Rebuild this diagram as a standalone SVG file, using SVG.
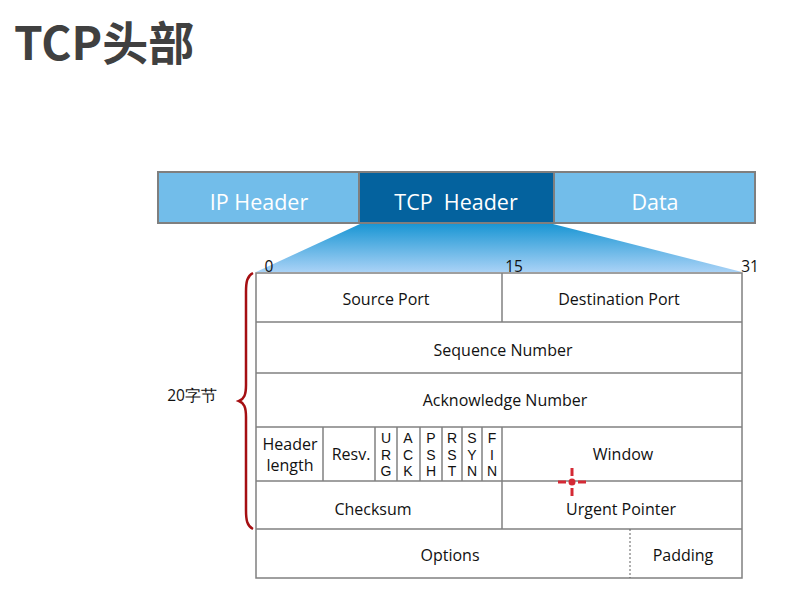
<svg xmlns="http://www.w3.org/2000/svg" width="799" height="607" viewBox="0 0 799 607">
<defs>
<linearGradient id="fan" x1="0" y1="0" x2="0" y2="1">
<stop offset="0" stop-color="#1a96d4"/>
<stop offset="1" stop-color="#a9d2f6"/>
</linearGradient>
<style>
.t{font-family:"Open Sans","Noto Sans","Noto Sans CJK SC",sans-serif;fill:#111;font-size:16px;text-anchor:middle}
.f{font-family:"Liberation Sans",Arial,sans-serif;fill:#111;font-size:14px;text-anchor:middle}
.n{font-family:"Open Sans","Noto Sans",sans-serif;fill:#111;font-size:15.5px;text-anchor:middle}
.b{font-family:"Open Sans","Noto Sans",sans-serif;fill:#fff;font-size:21.5px;text-anchor:middle}
.ln{stroke:#808080;stroke-width:1.5;fill:none}
.cell{fill:#fff;stroke:#808080;stroke-width:1.5}
</style>
</defs>
<rect width="799" height="607" fill="#fff"/>
<text x="14" y="60" font-family="'Noto Sans CJK SC','Noto Sans',sans-serif" font-weight="bold" font-size="46" fill="#404040">TCP头部</text>

<g id="packet">
<g id="ip-header"><rect x="158" y="172" width="201" height="51" fill="#72bdea" stroke="#7f7f7f" stroke-width="2"/><text class="b" x="259" y="210">IP Header</text></g>
<g id="tcp-header"><rect x="359" y="172" width="195" height="51" fill="#04629e" stroke="#7f7f7f" stroke-width="2"/><text class="b" x="456" y="210" xml:space="preserve">TCP  Header</text></g>
<g id="data"><rect x="554" y="172" width="201" height="51" fill="#72bdea" stroke="#7f7f7f" stroke-width="2"/><text class="b" x="655" y="210">Data</text></g>
</g>

<polygon points="360,224 553,224 742,272 256,272" fill="url(#fan)"/>
<text class="n" x="269" y="272">0</text>
<text class="n" x="514" y="272">15</text>
<text class="n" x="750" y="272">31</text>

<g id="table">
<rect class="cell" x="256" y="273" width="486" height="305"/>
<g id="connectors">
<line class="ln" x1="256" y1="322" x2="742" y2="322"/>
<line class="ln" x1="256" y1="373" x2="742" y2="373"/>
<line class="ln" x1="256" y1="427" x2="742" y2="427"/>
<line class="ln" x1="256" y1="481" x2="742" y2="481"/>
<line class="ln" x1="256" y1="529" x2="742" y2="529"/>
<line class="ln" x1="502" y1="273" x2="502" y2="322"/>
<line class="ln" x1="323" y1="427" x2="323" y2="481"/>
<line class="ln" x1="375" y1="427" x2="375" y2="481"/>
<line class="ln" x1="397" y1="427" x2="397" y2="481"/>
<line class="ln" x1="420" y1="427" x2="420" y2="481"/>
<line class="ln" x1="442" y1="427" x2="442" y2="481"/>
<line class="ln" x1="462" y1="427" x2="462" y2="481"/>
<line class="ln" x1="482" y1="427" x2="482" y2="481"/>
<line class="ln" x1="502" y1="427" x2="502" y2="529"/>
<line x1="630" y1="529" x2="630" y2="578" stroke="#606060" stroke-width="1" stroke-dasharray="2,2"/>
</g>
<g id="source-port"><text class="t" x="386" y="305">Source Port</text></g>
<g id="destination-port"><text class="t" x="619" y="305">Destination Port</text></g>
<g id="sequence-number"><text class="t" x="503" y="356">Sequence Number</text></g>
<g id="acknowledge-number"><text class="t" x="505" y="406">Acknowledge Number</text></g>
<g id="header-length"><text class="t" x="290" y="450">Header</text><text class="t" x="290" y="471">length</text></g>
<g id="resv"><text class="t" x="351" y="460">Resv.</text></g>
<g id="urg"><text class="f" x="386" y="443">U</text><text class="f" x="386" y="459.5">R</text><text class="f" x="386" y="476">G</text></g>
<g id="ack"><text class="f" x="408" y="443">A</text><text class="f" x="408" y="459.5">C</text><text class="f" x="408" y="476">K</text></g>
<g id="psh"><text class="f" x="431" y="443">P</text><text class="f" x="431" y="459.5">S</text><text class="f" x="431" y="476">H</text></g>
<g id="rst"><text class="f" x="452" y="443">R</text><text class="f" x="452" y="459.5">S</text><text class="f" x="452" y="476">T</text></g>
<g id="syn"><text class="f" x="472" y="443">S</text><text class="f" x="472" y="459.5">Y</text><text class="f" x="472" y="476">N</text></g>
<g id="fin"><text class="f" x="492" y="443">F</text><text class="f" x="492" y="459.5">I</text><text class="f" x="492" y="476">N</text></g>
<g id="window"><text class="t" x="623" y="460">Window</text></g>
<g id="checksum"><text class="t" x="373" y="515">Checksum</text></g>
<g id="urgent-pointer"><text class="t" x="621" y="515">Urgent Pointer</text></g>
<g id="options"><text class="t" x="450" y="561">Options</text></g>
<g id="padding"><text class="t" x="683" y="561">Padding</text></g>
</g>

<g id="brace">
<path d="M253,273 C247,276 246,282 246,292 L246,385 C246,395 244,399 239,401 C244,403 246,407 246,417 L246,510 C246,520 247,526 253,529" fill="none" stroke="#a50f12" stroke-width="2.5"/>
<text class="n" x="192" y="401">20字节</text>
</g>

<g id="pointer" fill="#d42a35" stroke="#d42a35">
<circle cx="572" cy="482" r="3.5" stroke="none"/>
<line x1="558" y1="482" x2="566" y2="482" stroke-width="3"/>
<line x1="578" y1="482" x2="586" y2="482" stroke-width="3"/>
<line x1="572" y1="468" x2="572" y2="476" stroke-width="3"/>
<line x1="572" y1="488" x2="572" y2="496" stroke-width="3"/>
</g>
</svg>
